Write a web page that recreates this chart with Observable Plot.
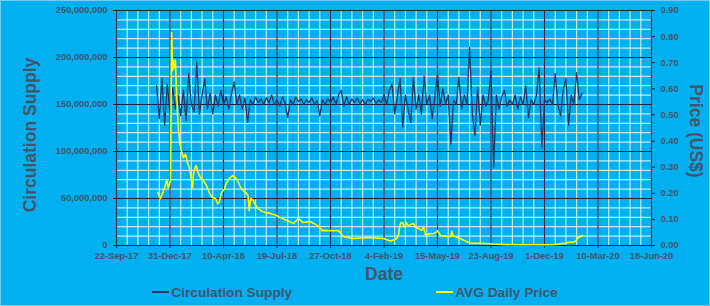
<!DOCTYPE html>
<html>
<head>
<meta charset="utf-8">
<script src="https://cdn.jsdelivr.net/npm/d3@7"></script>
<script src="https://cdn.jsdelivr.net/npm/@observablehq/plot@0.6"></script>
<style>
  html, body { margin: 0; padding: 0; }
  body { width: 710px; height: 306px; background: #00B0F0; overflow: hidden; position: relative;
         font-family: "Liberation Sans", Arial, sans-serif; }
  #chart { position: absolute; left: 0; top: 0; }
  #legend { position: absolute; left: 0; top: 282px; width: 710px; height: 20px; display: flex;
            justify-content: center; align-items: center; gap: 144px; font-weight: bold; font-size: 13.7px; color: #44546A; }
  #legend .item { display: flex; align-items: center; }
  #legend .sw { display: inline-block; width: 17px; height: 2px; margin-right: 2px; }
  #border { position: absolute; left: 0; top: 0; width: 708px; height: 304px; border: 1px solid #6fd0f7; pointer-events: none; }
</style>
</head>
<body>
<div id="chart"></div>
<div id="legend"></div>
<div id="border"></div>
<script>
// ---- data ----
const xTickDates = ["2017-09-22","2017-12-31","2018-04-10","2018-07-19","2018-10-27","2019-02-04","2019-05-15","2019-08-23","2019-12-01","2020-03-10","2020-06-18"];
const xTickLabels = ["22-Sep-17","31-Dec-17","10-Apr-18","19-Jul-18","27-Oct-18","4-Feb-19","15-May-19","23-Aug-19","1-Dec-19","10-Mar-20","18-Jun-20"];
const supplyTicks = [0, 50000000, 100000000, 150000000, 200000000, 250000000];
const priceTicks = [0, 0.1, 0.2, 0.3, 0.4, 0.5, 0.6, 0.7, 0.8, 0.9];
const seriesNames = ["Circulation Supply", "AVG Daily Price"];

// Circulation supply (millions), one reading every 5 days from the start date
const supplyStart = "2017-12-06";
const supplyStepDays = 5;
const supplyMillions = [
  170,135,178,128,172,140,168,145,160,138,
  165,133,183,150,142,195,140,160,177,145,
  162,140,160,148,165,150,158,145,162,174,
  150,160,145,157,131,155,150,158,152,156,
  150,157,152,160,150,155,148,158,152,136,
  155,150,158,153,156,150,155,152,157,150,
  154,138,155,150,156,152,158,150,160,165,
  148,158,150,156,152,157,151,155,150,156,
  153,157,151,155,152,160,150,165,172,140,
  158,178,126,160,145,131,179,145,160,140,
  180,150,160,135,158,183,148,167,150,160,
  108,155,150,179,145,160,150,211,140,117,
  168,128,160,148,155,186,83,160,145,158,
  165,148,155,150,160,145,158,150,170,136,
  155,150,160,189,104,155,152,156,150,183,
  150,138,165,178,128,160,150,184,155,162
];

const priceDates = ["2017-12-08","2017-12-13","2017-12-19","2017-12-25","2017-12-28","2018-01-01","2018-01-03","2018-01-05","2018-01-06","2018-01-08",
  "2018-01-10","2018-01-12","2018-01-14","2018-01-16","2018-01-18","2018-01-21","2018-01-25","2018-01-29","2018-02-02","2018-02-05",
  "2018-02-09","2018-02-11","2018-02-13","2018-02-16","2018-02-18","2018-02-22","2018-02-26","2018-03-03","2018-03-09","2018-03-15",
  "2018-03-20","2018-03-26","2018-03-30","2018-04-02","2018-04-06","2018-04-12","2018-04-15","2018-04-21","2018-04-27","2018-05-02",
  "2018-05-06","2018-05-12","2018-05-17","2018-05-23","2018-05-26","2018-05-28","2018-05-31","2018-06-05","2018-06-10","2018-06-18",
  "2018-06-27","2018-07-07","2018-07-18","2018-07-27","2018-08-07","2018-08-19","2018-08-28","2018-09-06","2018-09-19","2018-10-02",
  "2018-10-12","2018-10-21","2018-11-02","2018-11-11","2018-11-16","2018-11-20","2018-12-09","2018-12-22","2019-01-04","2019-01-19",
  "2019-02-03","2019-02-16","2019-02-27","2019-03-03","2019-03-05","2019-03-07","2019-03-11","2019-03-14","2019-03-18","2019-03-22",
  "2019-03-26","2019-03-31","2019-04-04","2019-04-10","2019-04-15","2019-04-19","2019-04-23","2019-05-01","2019-05-06","2019-05-12",
  "2019-05-15","2019-05-21","2019-06-03","2019-06-09","2019-06-11","2019-06-13","2019-06-22","2019-07-04","2019-07-17","2019-08-05",
  "2019-08-24","2019-09-12","2019-10-10","2019-11-07","2019-12-05","2019-12-23","2020-01-07","2020-01-14","2020-01-25","2020-01-29",
  "2020-02-02","2020-02-07","2020-02-10"];
const priceValues = [0.203,0.18,0.21,0.25,0.22,0.25,0.816,0.67,0.71,0.68,
  0.71,0.605,0.506,0.44,0.40,0.364,0.337,0.35,0.314,0.30,
  0.25,0.22,0.276,0.30,0.306,0.276,0.26,0.25,0.23,0.20,
  0.184,0.18,0.16,0.165,0.20,0.218,0.237,0.257,0.268,0.26,
  0.25,0.222,0.21,0.20,0.19,0.134,0.18,0.172,0.15,0.134,
  0.126,0.123,0.115,0.105,0.096,0.084,0.103,0.088,0.092,0.077,
  0.057,0.057,0.057,0.057,0.045,0.034,0.027,0.029,0.031,0.029,
  0.027,0.017,0.025,0.04,0.069,0.084,0.088,0.07,0.086,0.075,
  0.08,0.084,0.07,0.065,0.058,0.07,0.038,0.046,0.045,0.05,
  0.057,0.038,0.034,0.035,0.054,0.036,0.031,0.019,0.008,0.008,
  0.006,0.004,0.003,0.003,0.003,0.004,0.008,0.012,0.013,0.019,
  0.031,0.034,0.038];

// ---- build ----
const colors = ["#1F3864", "#FFFF00"];
const textColor = "#44546A";
const K = 250000000 / 0.9; // price -> supply axis scale
const startDate = new Date(supplyStart);
const supply = supplyMillions.map((v, i) => ({date: d3.utcDay.offset(startDate, i * supplyStepDays), value: v * 1e6}));
const price = priceDates.map((d, i) => ({date: new Date(d), value: priceValues[i]}));
const xTicks = xTickDates.map(d => new Date(d));
const labelOf = new Map(xTicks.map((d, i) => [+d, xTickLabels[i]]));
const xDomain = [xTicks[0], xTicks[xTicks.length - 1]];
const minorX = d3.range(0, 1001, 20).map(n => d3.utcDay.offset(xTicks[0], n));
const minorY = d3.range(0, 250000001, 10000000);

const chart = Plot.plot({
  width: 710, height: 282,
  marginLeft: 116, marginRight: 59, marginTop: 10, marginBottom: 37,
  style: {background: "transparent", color: textColor, fontFamily: "'Liberation Sans', Arial, sans-serif", fontSize: "9.3px", fontWeight: "bold", overflow: "visible"},
  x: {type: "utc", domain: xDomain},
  y: {domain: [0, 250000000]},
  marks: [
    Plot.gridX(minorX, {stroke: "#ffffff", strokeOpacity: 0.75, strokeWidth: 1.2}),
    Plot.gridY(minorY, {stroke: "#ffffff", strokeOpacity: 0.75, strokeWidth: 1.2}),
    Plot.gridX(xTicks, {stroke: "#142845", strokeOpacity: 1, strokeWidth: 1.2}),
    Plot.gridY(supplyTicks, {stroke: "#142845", strokeOpacity: 1, strokeWidth: 1.2}),
    Plot.axisX(xTicks, {tickFormat: d => labelOf.get(+d), tickSize: 3, tickPadding: 4, label: null, stroke: "#142845"}),
    Plot.axisY(supplyTicks, {anchor: "left", tickFormat: d3.format(","), tickSize: 3, tickPadding: 6, label: null, stroke: "#142845"}),
    Plot.axisY(priceTicks.map(p => p * K), {anchor: "right", tickFormat: d => (d / K).toFixed(2), tickSize: 3, tickPadding: 6, label: null, stroke: "#142845"}),
    Plot.line(supply, {x: "date", y: "value", stroke: colors[0], strokeWidth: 1.3}),
    Plot.line(price, {x: "date", y: d => d.value * K, stroke: colors[1], strokeWidth: 1.6}),
    Plot.text(["Date"], {frameAnchor: "bottom", dy: 34, fontSize: 17.5, fontWeight: "bold", fill: textColor}),
    Plot.text(["Circulation Supply"], {frameAnchor: "left", textAnchor: "middle", lineAnchor: "middle", rotate: -90, dx: -86, dy: 7, fontSize: 17.5, fontWeight: "bold", fill: textColor}),
    Plot.text(["Price (US$)"], {frameAnchor: "right", textAnchor: "middle", lineAnchor: "middle", rotate: 90, dx: 44, dy: 3, fontSize: 17.5, fontWeight: "bold", fill: textColor})
  ]
});
document.getElementById("chart").appendChild(chart);

const legend = document.getElementById("legend");
seriesNames.forEach((name, i) => {
  const item = document.createElement("div");
  item.className = "item";
  const sw = document.createElement("span");
  sw.className = "sw";
  sw.style.background = colors[i];
  item.appendChild(sw);
  item.appendChild(document.createTextNode(name));
  legend.appendChild(item);
});
</script>
</body>
</html>
